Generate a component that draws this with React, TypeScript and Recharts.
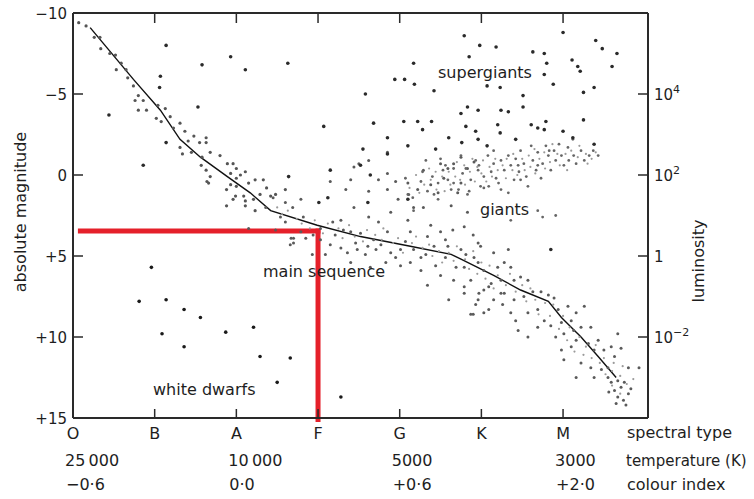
import React from "react";
import { ComposedChart, Scatter, Line, XAxis, YAxis, ReferenceLine } from "recharts";

// axis labels
const spectralTypes = ["O", "B", "A", "F", "G", "K", "M"];
const temperatureLabels = ["25\u2009000", "", "10\u2009000", "", "5000", "", "3000"];
const colourIndexLabels = ["\u22120·6", "", "0·0", "", "+0·6", "", "+2·0"];
const magnitudeTicks = [-10, -5, 0, 5, 10, 15];
const magnitudeLabels = ["\u221210", "\u22125", "0", "+5", "+10", "+15"];
const luminosityTicks = [-5, 0, 5, 10];
const luminosityBase = ["10", "10", "1", "10"];
const luminosityPower = ["4", "2", "", "\u22122"];

// red guide lines (spectral type F, absolute magnitude ~ +3.5)
const guideSpectral = 3;
const guideMagnitude = 3.45;

// [spectral index (O = 0 ... M = 6), absolute magnitude]
const mainSequenceTrack = [
  [0.21, -9.1], [0.74, -5.9], [1.07, -4.0], [1.31, -2.2], [1.56, -1.1], [1.89, 0.1],
  [2.17, 1.1], [2.42, 2.2], [2.99, 3.1], [3.52, 3.8], [4.13, 4.4], [4.63, 4.9],
  [4.75, 5.2], [5.15, 6.2], [5.48, 7.1], [5.82, 7.8], [5.98, 8.8], [6.22, 10.0],
  [6.43, 11.2], [6.65, 12.5],
];

const upperMainSequence = [
  [0.07, -9.4], [0.16, -9.2], [0.26, -8.5], [0.33, -8.5], [0.34, -7.8], [0.45, -7.5],
  [0.52, -7.4], [0.59, -6.9], [0.53, -6.5], [0.65, -6.5], [0.67, -6.0], [0.74, -5.5],
  [0.8, -4.9], [0.76, -4.6], [0.86, -4.6], [0.8, -4.0], [0.9, -4.0], [1.04, -4.3],
  [1.13, -4.1], [1.02, -3.5], [1.08, -3.3], [1.19, -3.6], [1.31, -3.2], [1.23, -2.9],
  [1.37, -2.7], [1.48, -2.4], [1.41, -2.1], [1.55, -2.0], [1.63, -2.3], [1.63, -2.0],
  [1.31, -1.7], [1.34, -1.3], [1.45, -1.4], [1.58, -1.1], [1.68, -1.4], [1.8, -1.2],
  [1.57, -0.6], [1.63, -0.3], [1.68, 0.1], [1.66, 0.5], [1.89, -0.7], [2.0, -0.4],
  [1.93, -0.1], [1.96, -0.7], [2.11, -0.2], [2.0, 0.2], [2.15, 0.5], [2.23, 0.3],
  [2.33, 0.3], [1.88, 0.9], [2.0, 0.7], [2.09, 1.3], [1.99, 1.3], [1.88, 1.9],
  [2.11, 1.9], [2.21, 1.5], [2.37, 0.8], [2.42, 1.3], [1.64, 0.4], [1.96, 1.5],
  [2.29, 1.2], [2.23, 2.2], [2.11, 1.6], [2.48, 1.2], [2.6, 0.9], [2.05, 0.0], [1.93, 0.6],
];

const middleMainSequence = [
  [2.45, 1.4], [2.36, 2.0], [2.54, 2.6], [2.69, 2.0], [2.79, 1.5], [2.6, 1.7], [2.82, 2.6],
  [2.7, 3.9], [2.85, 3.9], [2.94, 3.7], [2.93, 4.9], [3.15, 0.4], [3.4, 0.3], [3.34, 0.9],
  [3.44, 2.0], [3.18, 2.9], [3.28, 2.8], [3.31, 3.4], [3.4, 3.5], [3.28, 4.5], [3.36, 4.8],
  [3.48, 4.6], [3.52, 3.6], [3.62, 2.6], [3.74, 0.3], [3.62, 1.0], [3.85, -0.1], [3.85, 0.9],
  [3.95, 0.4], [4.1, 0.5], [3.98, 1.5], [3.89, 2.3], [3.74, 2.9], [3.85, 3.5], [3.68, 4.0],
  [3.61, 4.4], [3.71, 4.6], [3.89, 4.8], [4.01, 4.6], [4.07, 4.1], [4.13, 3.5], [4.1, 2.8],
  [4.17, 2.0], [4.29, 2.0], [4.11, 1.2], [4.22, 0.9], [4.38, 0.6], [4.47, 1.1], [4.54, 0.2],
  [4.5, -0.7], [4.59, -0.4], [4.66, -0.7], [4.75, -1.1], [4.83, -0.4], [4.75, 0.5], [4.91, -0.8],
  [4.71, 1.1], [4.63, 1.9], [4.83, 2.3], [4.79, 3.2], [4.65, 3.4], [4.5, 3.5], [4.34, 3.8],
  [4.17, 4.6], [4.26, 5.1], [4.42, 4.4], [4.59, 4.4], [4.75, 4.6], [4.91, 5.1], [4.96, 4.2],
  [3.85, -1.4], [4.29, -0.3], [3.62, -0.9], [3.44, -0.5], [3.5, -0.7], [3.03, 4.0], [3.15, 4.3],
  [3.21, 3.7], [3.46, 4.2], [3.58, 4.9], [3.77, 4.3], [3.95, 5.1], [4.13, 5.4], [4.32, 4.9],
  [4.44, 5.6], [4.56, 5.1], [4.69, 5.7], [4.5, 6.2], [4.26, 5.9], [4.01, 5.6], [3.83, 5.4],
  [4.38, 3.1], [4.56, 4.0], [3.03, 3.3], [2.79, 3.5], [2.6, 2.9], [2.48, 3.4], [2.66, 4.3],
  [3.09, 4.9], [3.4, 5.4], [3.64, 5.7], [2.15, 3.3], [2.67, 3.9], [2.7, 4.2],
];

const lowerMainSequence = [
  [4.9, 3.7], [4.99, 4.4], [4.81, 4.9], [5.15, 4.8], [5.33, 4.6], [4.79, 5.7], [4.96, 5.4],
  [5.03, 5.9], [4.87, 6.5], [4.79, 7.3], [4.97, 7.3], [5.09, 6.9], [5.2, 5.7], [5.28, 5.4],
  [5.36, 5.7], [5.24, 6.5], [5.4, 6.5], [5.48, 6.3], [5.57, 6.5], [4.93, 8.0], [4.9, 8.6],
  [5.03, 8.5], [5.15, 7.7], [5.28, 7.3], [5.26, 8.0], [5.4, 7.7], [5.52, 7.5], [5.63, 7.2],
  [5.73, 7.2], [5.82, 7.4], [5.89, 7.6], [5.36, 8.5], [5.42, 9.0], [5.57, 8.5], [5.69, 8.3],
  [5.77, 9.0], [5.45, 9.6], [5.57, 10.0], [5.69, 9.4], [5.85, 9.3], [5.94, 8.3], [6.06, 8.1],
  [6.16, 8.5], [6.26, 8.1], [5.98, 9.1], [6.1, 9.0], [5.91, 10.0], [6.01, 9.8], [6.13, 9.6],
  [6.22, 9.4], [6.34, 9.4], [5.98, 10.8], [6.1, 10.6], [6.16, 10.2], [6.31, 10.4], [6.43, 10.2],
  [6.38, 10.8], [6.5, 10.8], [6.59, 10.6], [6.67, 9.8], [6.01, 11.4], [6.16, 12.5], [6.22, 11.6],
  [6.34, 11.9], [6.38, 12.5], [6.47, 12.0], [6.55, 11.9], [6.63, 11.2], [6.71, 10.7], [6.8, 11.9],
  [6.93, 11.9], [6.55, 12.5], [6.59, 12.8], [6.67, 12.7], [6.75, 12.8], [6.63, 13.3], [6.71, 13.1],
  [6.56, 13.4], [6.8, 13.5], [6.83, 13.2], [6.67, 13.7], [6.74, 13.9], [6.77, 14.2], [6.65, 14.1],
  [4.34, 6.8], [4.6, 7.7], [4.87, 8.6], [5.09, 8.3], [4.66, 6.5], [4.79, 6.9], [4.96, 7.7],
  [5.03, 7.1], [5.12, 6.7], [5.24, 7.3],
];

const giantBranch = [
  [4.07, 0.2], [4.1, 1.2], [4.16, 1.4], [4.26, 0.4], [4.28, -0.2], [4.32, -0.9], [4.34, 1.0],
  [4.4, 0.1], [4.42, 1.2], [4.47, 0.5], [4.5, -1.0], [4.53, -0.3], [4.56, -0.6], [4.59, 0.3],
  [4.63, 0.9], [4.66, -0.4], [4.66, 0.5], [4.72, 0.9], [4.75, -1.2], [4.77, -0.1], [4.81, -0.4],
  [4.85, 1.0], [4.87, 0.3], [4.93, -0.9], [4.96, -0.3], [4.97, -0.6], [4.99, 0.7], [5.03, 0.1],
  [5.08, -1.2], [5.09, 0.7], [5.12, -0.2], [5.15, -0.7], [5.18, 0.2], [5.21, 0.5], [5.24, -0.9],
  [5.28, -0.3], [5.33, 1.1], [5.33, -1.2], [5.36, -0.6], [5.4, 0.3], [5.42, -1.0], [5.46, -0.2],
  [5.48, -1.5], [5.52, -0.7], [5.55, 0.1], [5.57, 0.7], [5.61, -1.8], [5.63, -0.9], [5.67, -0.3],
  [5.69, -1.4], [5.73, 0.2], [5.75, -0.7], [5.79, -1.8], [5.82, -1.2], [5.85, -0.3], [5.89, -1.5],
  [5.91, -0.9], [5.98, -1.2], [6.01, -0.6], [6.06, -1.7], [6.07, -0.9], [6.12, -2.2], [6.13, -1.2],
  [6.16, -0.7], [6.22, -1.5], [6.26, -0.9], [6.32, -1.2], [6.37, -1.5], [6.43, -1.2], [5.48, 0.3],
  [5.24, 0.9], [5.03, 0.8], [4.83, 1.2], [4.47, 1.5], [4.17, 2.2], [5.36, 2.8], [5.69, 2.2],
  [5.75, 2.6], [5.91, 2.5], [5.69, -0.6], [5.83, -1.5], [5.95, -1.9], [5.45, -0.6], [5.15, -1.5],
];

// small faint stars filling the dense bands
const giantHaze = [
  [4.12, 0.8], [4.2, 0.0], [4.24, 1.1], [4.3, 0.6], [4.36, -0.4], [4.38, 0.3], [4.44, -0.2],
  [4.45, 0.9], [4.52, 0.1], [4.55, 1.0], [4.6, -0.2], [4.62, 0.6], [4.68, 0.1], [4.7, -0.8],
  [4.74, 0.3], [4.79, -0.6], [4.8, 0.6], [4.86, -0.2], [4.89, -1.0], [4.92, 0.4], [4.95, -0.5],
  [5.0, -0.1], [5.02, -0.9], [5.06, 0.4], [5.1, -0.5], [5.13, 0.1], [5.17, -1.0], [5.2, -0.3],
  [5.26, -0.6], [5.3, 0.2], [5.31, -1.0], [5.38, -0.3], [5.39, -1.3], [5.44, 0.0], [5.5, -1.0],
  [5.53, -0.3], [5.58, -1.2], [5.6, -0.5], [5.65, -1.6], [5.66, -0.1], [5.71, -1.0], [5.77, -1.4],
  [5.78, -0.4], [5.84, -0.8], [5.87, -1.9], [5.93, -1.3], [5.96, -0.6], [6.03, -1.3], [6.05, -0.3],
  [6.1, -1.5], [6.18, -1.1], [6.2, -1.8], [6.28, -1.3], [6.3, -0.7], [6.35, -1.0], [6.4, -1.4],
];

const mainSequenceHaze = [
  [2.5, 2.0], [2.56, 2.4], [2.63, 2.2], [2.74, 2.7], [2.8, 3.0], [2.9, 3.3], [2.96, 2.8],
  [3.06, 3.6], [3.12, 3.0], [3.25, 3.3], [3.3, 3.9], [3.38, 3.1], [3.45, 3.8], [3.55, 4.1],
  [3.6, 3.4], [3.7, 3.7], [3.78, 4.0], [3.8, 3.3], [3.92, 4.2], [3.98, 3.9], [4.04, 4.8],
  [4.15, 4.2], [4.2, 3.8], [4.28, 4.5], [4.36, 4.3], [4.4, 5.0], [4.48, 4.7], [4.52, 5.4],
  [4.6, 4.8], [4.66, 5.3], [4.7, 4.4], [4.8, 5.2], [4.85, 5.8], [4.9, 4.7], [4.95, 6.1],
  [5.0, 5.4], [5.05, 6.4], [5.1, 5.6], [5.15, 7.0], [5.2, 6.2], [5.3, 6.8], [5.35, 6.1],
  [5.42, 7.2], [5.5, 6.8], [5.55, 7.8], [5.6, 7.0], [5.66, 7.7], [5.7, 8.6], [5.78, 7.9],
  [5.84, 8.7], [5.88, 8.0], [5.95, 9.5], [6.0, 8.7], [6.05, 10.2], [6.08, 9.4], [6.14, 10.9],
  [6.2, 10.0], [6.25, 11.1], [6.28, 10.6], [6.35, 11.3], [6.4, 10.5], [6.45, 11.6], [6.5, 11.3],
  [6.52, 12.3], [6.6, 12.1], [6.62, 11.6], [6.7, 12.4], [6.73, 11.8], [6.78, 12.9], [6.86, 12.6],
  [6.7, 13.5], [6.6, 13.0],
];

const supergiants = [
  [4.79, -8.6], [4.98, -8.0], [5.18, -7.9], [4.85, -7.3], [4.17, -6.9], [4.06, -5.9], [4.18, -5.6],
  [4.42, -5.2], [5.63, -7.6], [5.77, -7.5], [5.8, -6.9], [5.77, -6.2], [5.88, -5.6], [6.0, -8.8],
  [6.11, -7.1], [6.18, -6.7], [6.21, -6.4], [6.4, -8.3], [6.48, -7.8], [6.66, -7.5], [6.6, -6.7],
  [6.38, -5.4], [6.25, -5.1], [5.23, -5.4], [5.07, -5.5], [5.51, -4.9], [5.51, -4.2], [4.83, -4.2],
  [4.96, -4.0], [4.75, -3.8], [5.24, -4.0], [5.33, -3.9], [5.2, -3.1], [4.81, -3.0], [4.05, -3.3],
  [4.22, -3.3], [4.39, -3.3], [4.28, -2.8], [4.93, -2.7], [5.23, -2.6], [5.61, -3.1], [5.69, -2.9],
  [5.79, -3.3], [5.77, -2.8], [6.0, -2.7], [6.25, -3.4], [6.12, -2.3], [4.96, -2.2], [5.42, -2.2],
  [5.07, -1.8], [4.76, -2.0], [4.44, -1.6], [4.1, -1.8], [6.38, -1.9], [4.6, -2.3],
];

const fieldStars = [
  [3.52, -0.6], [3.15, -0.3], [2.64, 0.1], [3.64, 0.0], [3.61, 1.7], [3.12, 1.4], [3.01, 1.7],
  [4.1, 1.5], [2.63, -6.9], [3.94, -5.9], [3.58, -5.0], [3.07, -3.0], [3.68, -3.2], [3.85, -2.3],
  [3.55, -1.6], [3.85, -1.3], [1.14, -8.0], [1.58, -6.8], [1.93, -7.3], [2.11, -6.5], [1.07, -6.1],
  [1.06, -5.4], [1.53, -4.2], [0.44, -3.7], [1.14, -2.0], [0.86, -0.6], [5.85, 4.6],
];

const whiteDwarfs = [
  [0.96, 5.7], [0.81, 7.8], [1.14, 7.7], [1.36, 8.3], [1.56, 8.8], [1.09, 9.8], [1.36, 10.6],
  [1.87, 9.7], [2.21, 9.4], [2.29, 11.2], [2.66, 11.3], [2.5, 12.8], [3.28, 13.7],
];

const font = "'DejaVu Sans', sans-serif";
const ink = "#1e1e1e";
const axisInk = "#2a2a2a";

const toPoints = (rows: number[][]) => rows.map(([x, m]) => ({ x, m }));

const dot = (r: number, fill: string) => (p: any) =>
  p.cx == null ? <g /> : <circle cx={p.cx} cy={p.cy} r={r} fill={fill} />;

function BottomTick({ x, y, payload }: any) {
  const i = payload.value as number;
  return (
    <g fontFamily={font} fontSize={16} fill={ink}>
      {i > 0 && <line x1={x} x2={x} y1={y} y2={y - 9} stroke={axisInk} strokeWidth={1.5} />}
      <text x={x} y={y + 21} textAnchor="middle">{spectralTypes[i]}</text>
      {temperatureLabels[i] && <text x={x - 8} y={y + 48}>{temperatureLabels[i]}</text>}
      {colourIndexLabels[i] && <text x={x - 7} y={y + 72}>{colourIndexLabels[i]}</text>}
    </g>
  );
}

function TopTick({ x, y, payload }: any) {
  if (payload.value === 0) return <g />;
  return <line x1={x} x2={x} y1={y} y2={y + 10} stroke={axisInk} strokeWidth={1.5} />;
}

function LeftTick({ x, y, payload }: any) {
  const v = payload.value as number;
  return (
    <g>
      {v > -10 && v < 15 && <line x1={x} x2={x + 10} y1={y} y2={y} stroke={axisInk} strokeWidth={1.5} />}
      <text x={x - 6} y={y + 5.5} textAnchor="end" fontFamily={font} fontSize={15} fill={ink}>
        {magnitudeLabels[magnitudeTicks.indexOf(v)]}
      </text>
    </g>
  );
}

function RightTick({ x, y, payload }: any) {
  const i = luminosityTicks.indexOf(payload.value);
  return (
    <g>
      <line x1={x - 10} x2={x} y1={y} y2={y} stroke={axisInk} strokeWidth={1.5} />
      <text x={x + 6} y={y + 5.5} fontFamily={font} fontSize={15} fill={ink}>
        {luminosityBase[i]}
        {luminosityPower[i] && (
          <tspan dy={-7} fontSize={11}>{luminosityPower[i]}</tspan>
        )}
      </text>
    </g>
  );
}

const textStyle = { fontFamily: font, fontSize: 16, fill: ink } as const;

export default function App() {
  return (
    <div style={{ position: "absolute", left: 0, top: 0, width: 754, height: 499, background: "#fff" }}>
      <ComposedChart width={754} height={499} margin={{ top: 3, right: 46, bottom: 41, left: 13 }}>
        <XAxis
          dataKey="x"
          type="number"
          domain={[0, 7.04]}
          ticks={[0, 1, 2, 3, 4, 5, 6]}
          interval={0}
          height={40}
          tickSize={0}
          tickMargin={0}
          tickLine={false}
          axisLine={{ stroke: axisInk, strokeWidth: 2 }}
          tick={<BottomTick />}
          allowDataOverflow
        />
        <XAxis
          xAxisId="top"
          orientation="top"
          dataKey="x"
          type="number"
          domain={[0, 7.04]}
          ticks={[0, 1, 2, 3, 4, 5, 6]}
          interval={0}
          height={10}
          tickSize={0}
          tickMargin={0}
          tickLine={false}
          axisLine={{ stroke: axisInk, strokeWidth: 2 }}
          tick={<TopTick />}
          allowDataOverflow
        />
        <YAxis
          dataKey="m"
          type="number"
          domain={[-10, 15]}
          reversed
          ticks={magnitudeTicks}
          interval={0}
          width={60}
          tickSize={0}
          tickMargin={0}
          tickLine={false}
          axisLine={{ stroke: axisInk, strokeWidth: 2 }}
          tick={<LeftTick />}
          allowDataOverflow
        />
        <YAxis
          yAxisId="lum"
          orientation="right"
          dataKey="m"
          type="number"
          domain={[-10, 15]}
          reversed
          ticks={luminosityTicks}
          interval={0}
          width={60}
          tickSize={0}
          tickMargin={0}
          tickLine={false}
          axisLine={{ stroke: axisInk, strokeWidth: 2 }}
          tick={<RightTick />}
          allowDataOverflow
        />

        <Scatter data={toPoints(giantHaze)} dataKey="m" shape={dot(1.1, "#9a9a9a")} isAnimationActive={false} />
        <Scatter data={toPoints(mainSequenceHaze)} dataKey="m" shape={dot(1.1, "#9a9a9a")} isAnimationActive={false} />
        <Scatter data={toPoints(upperMainSequence)} dataKey="m" shape={dot(1.6, "#555")} isAnimationActive={false} />
        <Scatter data={toPoints(middleMainSequence)} dataKey="m" shape={dot(1.5, "#5a5a5a")} isAnimationActive={false} />
        <Scatter data={toPoints(lowerMainSequence)} dataKey="m" shape={dot(1.5, "#5a5a5a")} isAnimationActive={false} />
        <Scatter data={toPoints(giantBranch)} dataKey="m" shape={dot(1.4, "#666")} isAnimationActive={false} />
        <Scatter data={toPoints(supergiants)} dataKey="m" shape={dot(1.8, "#2a2a2a")} isAnimationActive={false} />
        <Scatter data={toPoints(fieldStars)} dataKey="m" shape={dot(1.8, "#2a2a2a")} isAnimationActive={false} />
        <Scatter data={toPoints(whiteDwarfs)} dataKey="m" shape={dot(1.8, "#1a1a1a")} isAnimationActive={false} />

        <Line
          data={toPoints(mainSequenceTrack)}
          dataKey="m"
          type="linear"
          stroke="#111"
          strokeWidth={1.4}
          dot={false}
          activeDot={false}
          isAnimationActive={false}
        />

        <ReferenceLine
          segment={[{ x: 0.06, y: guideMagnitude }, { x: guideSpectral + 0.03, y: guideMagnitude }]}
          stroke="#e5202a"
          strokeWidth={5}
          ifOverflow="visible"
        />
        <ReferenceLine
          segment={[{ x: guideSpectral, y: guideMagnitude - 0.15 }, { x: guideSpectral, y: 15.25 }]}
          stroke="#e5202a"
          strokeWidth={5}
          ifOverflow="visible"
        />
      </ComposedChart>

      <svg width={754} height={499} style={{ position: "absolute", left: 0, top: 0, pointerEvents: "none" }}>
        <text {...textStyle} x={26} y={212} textAnchor="middle" transform="rotate(-90 26 212)">absolute magnitude</text>
        <text {...textStyle} x={704} y={261} textAnchor="middle" transform="rotate(-90 704 261)">luminosity</text>
        <text {...textStyle} x={438} y={78}>supergiants</text>
        <text {...textStyle} x={480} y={215}>giants</text>
        <text {...textStyle} x={263} y={277}>main sequence</text>
        <text {...textStyle} x={153} y={395}>white dwarfs</text>
        <text {...textStyle} x={627} y={438}>spectral type</text>
        <text {...textStyle} x={626} y={466} fontSize={15}>temperature (K)</text>
        <text {...textStyle} x={627} y={490}>colour index</text>
      </svg>
    </div>
  );
}
